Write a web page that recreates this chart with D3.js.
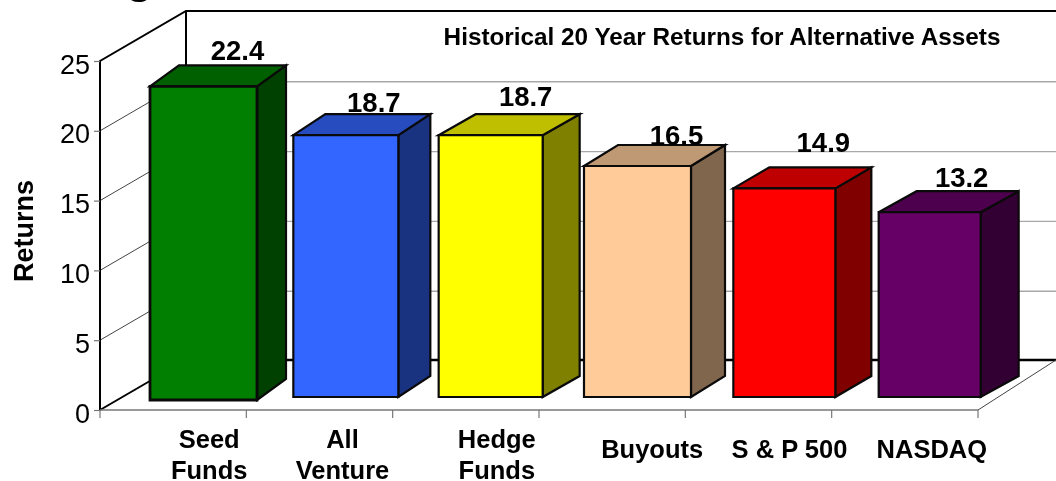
<!DOCTYPE html>
<html><head><meta charset="utf-8">
<script src="https://cdn.jsdelivr.net/npm/d3@7"></script>
<style>html,body{margin:0;padding:0;background:#fff;overflow:hidden}svg{display:block;filter:blur(0.45px)}text{font-family:"Liberation Sans",Arial,sans-serif;fill:#000}</style>
</head><body><svg id="c" width="1056" height="481"></svg>
<script>
const categories = [["Seed","Funds"],["All","Venture"],["Hedge","Funds"],["Buyouts"],["S & P 500"],["NASDAQ"]];
const returns = [22.4,18.7,18.7,16.5,14.9,13.2];
const labels = ["22.4","18.7","18.7","16.5","14.9","13.2"];
const yTicks = [0,5,10,15,20,25];
const frontColors = ["#007F00","#3366FF","#FFFF00","#FFCC99","#FF0000","#660066"];
const topColors = ["#006000","#264CBF","#BFBF00","#BF9973","#BF0000","#4D004D"];
const sideColors = ["#004000","#1A3380","#808000","#80664D","#800000","#330033"];
const chartTitle = "Historical 20 Year Returns for Alternative Assets";

// layout adjustments, one per category
const barLeft = [50,47,46,45,48,47], barW = [107,105,104,107,102,102];
const barBase = [400,397,397,397,397,397], depthX = [29,32,37,34,36,38];
const labelDX = [34,28,35,39,39,32], labelY = [60,112,106,145,152,187];
const catDX = [36,23,31,40,31,27];

const svg = d3.select("#c");
const y = d3.scaleLinear().domain([0,25]).range([410,61]);
const h = d3.scaleLinear().domain([0,25]).range([0,350]);
const x = d3.scaleBand().domain(d3.range(categories.length)).range([100,978]);
const wallDX = 86, wallDY = -50, rightEdge = 1056;

// cropped slide title remnant
svg.append("text").attr("x",126).attr("y",-7).attr("font-size",44).attr("font-weight","bold").text("g");

// back wall gridlines
svg.append("g").selectAll("line").data(yTicks.filter(t=>t>0&&t<25)).join("line")
  .attr("x1",100+wallDX).attr("x2",rightEdge)
  .attr("y1",d=>y(d)+wallDY+1).attr("y2",d=>y(d)+wallDY+1)
  .attr("stroke","#a8a8a8").attr("stroke-width",1.4);
// side wall gridlines
svg.append("g").selectAll("line").data(yTicks.filter(t=>t>0&&t<25)).join("line")
  .attr("x1",100).attr("x2",100+wallDX)
  .attr("y1",d=>y(d)).attr("y2",d=>y(d)+wallDY)
  .attr("stroke","#444").attr("stroke-width",1);
// wall frame
const frame = d3.line();
svg.append("path").attr("fill","none").attr("stroke","#000").attr("stroke-width",2)
  .attr("d",frame([[100,y(0)],[100,y(25)],[100+wallDX,y(25)+wallDY],[rightEdge,y(25)+wallDY]]));
svg.append("line").attr("x1",100+wallDX).attr("x2",100+wallDX).attr("y1",y(25)+wallDY).attr("y2",y(0)+wallDY)
  .attr("stroke","#000").attr("stroke-width",2);
svg.append("line").attr("x1",100+wallDX).attr("x2",rightEdge).attr("y1",y(0)+wallDY).attr("y2",y(0)+wallDY)
  .attr("stroke","#000").attr("stroke-width",2.4);
svg.append("line").attr("x1",100).attr("x2",100+wallDX).attr("y1",y(0)).attr("y2",y(0)+wallDY)
  .attr("stroke","#000").attr("stroke-width",2);
svg.append("line").attr("x1",978).attr("x2",rightEdge).attr("y1",y(0)).attr("y2",y(0)+wallDY)
  .attr("stroke","#444").attr("stroke-width",1);

// y axis
const yAxis = svg.append("g").attr("transform","translate(100,0)")
  .call(d3.axisLeft(y).tickValues(yTicks).tickSize(6).tickPadding(4));
yAxis.select(".domain").remove();
yAxis.selectAll("line").attr("stroke","#777").attr("stroke-width",1.2);
yAxis.selectAll("text").attr("font-size",27).attr("dy","0.45em").style("font-family",'"Liberation Sans",Arial,sans-serif');

// x axis
svg.append("line").attr("x1",100).attr("x2",978).attr("y1",410).attr("y2",410).attr("stroke","#777").attr("stroke-width",1.6);
svg.append("g").selectAll("line").data(d3.range(categories.length+1)).join("line")
  .attr("x1",d=>100+d*x.step()).attr("x2",d=>100+d*x.step())
  .attr("y1",410).attr("y2",418).attr("stroke","#777").attr("stroke-width",1.2);

// bars
const bars = svg.append("g").selectAll("g").data(returns).join("g");
const dy = 21;
bars.each(function(v,i){
  const g = d3.select(this);
  const x0 = x(i)+barLeft[i], x1 = x0+barW[i], base = barBase[i], top = base-h(v), dx = depthX[i];
  const poly = (pts,fill,sw)=>g.append("polygon").attr("points",pts.join(" ")).attr("fill",fill)
    .attr("stroke","#0a0a0a").attr("stroke-width",sw||2.2);
  poly([[x1,top],[x1+dx,top-dy],[x1+dx,base-dy],[x1,base]],sideColors[i]);
  poly([[x0,top],[x0+dx,top-dy],[x1+dx,top-dy],[x1,top]],topColors[i]);
  poly([[x0,top],[x1,top],[x1,base],[x0,base]],frontColors[i],i===0?2.8:2.2);
});

// value labels
svg.append("g").selectAll("text").data(labels).join("text")
  .attr("x",(d,i)=>x(i)+barLeft[i]+barW[i]/2+labelDX[i]).attr("y",(d,i)=>labelY[i])
  .attr("text-anchor","middle").attr("font-size",27.5).attr("font-weight","bold").text(d=>d);

// category labels
const cats = svg.append("g").selectAll("text").data(categories).join("text")
  .attr("text-anchor","middle").attr("font-size",25.5).attr("font-weight","bold");
cats.each(function(lines,i){
  const t = d3.select(this), cx = x(i)+x.bandwidth()/2+catDX[i];
  const startY = lines.length>1 ? 448 : 458;
  lines.forEach((s,k)=>t.append("tspan").attr("x",cx).attr("y",startY+k*31).text(s));
});

// axis title and chart title
svg.append("text").attr("transform","translate(33,231) rotate(-90)").attr("text-anchor","middle")
  .attr("font-size",27).attr("font-weight","bold").text("Returns");
svg.append("text").attr("x",722).attr("y",45).attr("text-anchor","middle")
  .attr("font-size",24.3).attr("font-weight","bold").text(chartTitle);
</script></body></html>
